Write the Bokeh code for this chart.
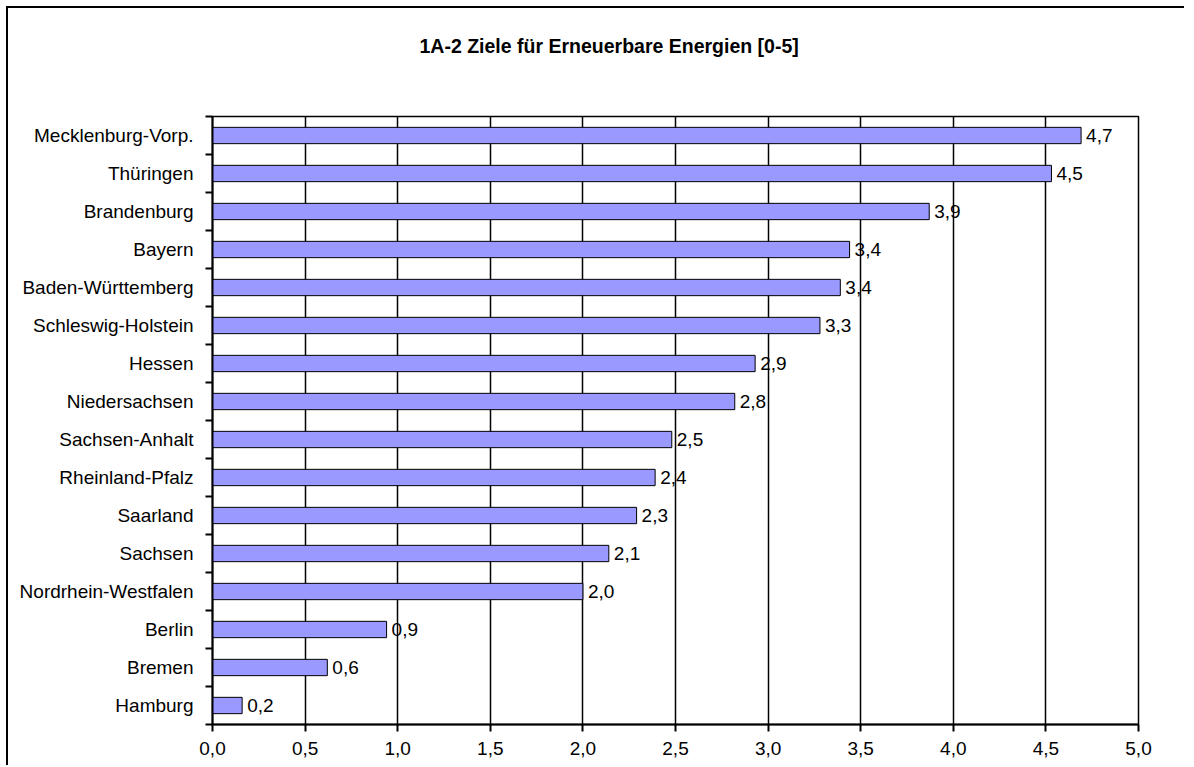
from bokeh.plotting import figure
from bokeh.models import FixedTicker, Range1d, ColumnDataSource
from bokeh.core.properties import value
from bokeh.embed import file_html
from bokeh.resources import INLINE

# Data (top to bottom as in the reference)
laender = ["Mecklenburg-Vorp.", "Thüringen", "Brandenburg", "Bayern", "Baden-Württemberg",
           "Schleswig-Holstein", "Hessen", "Niedersachsen", "Sachsen-Anhalt", "Rheinland-Pfalz",
           "Saarland", "Sachsen", "Nordrhein-Westfalen", "Berlin", "Bremen", "Hamburg"]
werte = [4.69, 4.53, 3.87, 3.44, 3.39, 3.28, 2.93, 2.82, 2.48, 2.39, 2.29, 2.14, 2.00, 0.94, 0.62, 0.16]
x_ticks = [0.0, 0.5, 1.0, 1.5, 2.0, 2.5, 3.0, 3.5, 4.0, 4.5, 5.0]
titel = "1A-2 Ziele für Erneuerbare Energien [0-5]"

n = len(laender)
ypos = [n - i - 0.5 for i in range(n)]
labels = [f"{v:.1f}".replace(".", ",") for v in werte]
src = ColumnDataSource(dict(y=ypos, v=werte, lab=labels, name=laender))

FONT = "Liberation Sans"
FS = "19px"

p = figure(width=1178, height=759, output_backend="svg", toolbar_location=None,
           x_range=Range1d(0, 5), y_range=Range1d(0, n),
           min_border_left=204, min_border_right=48, min_border_top=108, min_border_bottom=43,
           background_fill_color="white", border_fill_color="white")
p.styles = {"border-left": "2px solid black", "border-top": "2px solid black",
            "border-right": "none", "border-bottom": "none",
            "margin-left": "6px", "margin-top": "6px"}

# second (empty) line only enlarges the title box so that the title sits high above the plot
p.title.text = titel + "\n"
p.title.text_font = FONT
p.title.text_font_size = "19.5px"
p.title.text_font_style = "bold"
p.title.text_color = "black"
p.title.text_line_height = 1.66
p.title.align = "left"
p.title.offset = 207
p.title.vertical_align = "top"
p.title.standoff = 42

p.hbar(y="y", right="v", left=0, height=0.43, source=src,
       fill_color="#9999FF", line_color="black", line_width=1)
p.text(x="v", y="y", text="lab", source=src, x_offset=5,
       text_baseline="middle", text_align="left",
       text_font=value(FONT), text_font_size=FS, text_color="black")

# x axis
p.xaxis.ticker = FixedTicker(ticks=x_ticks)
p.xaxis.major_label_overrides = {t: f"{t:.1f}".replace(".", ",") for t in x_ticks}
p.xaxis.major_label_text_font = FONT
p.xaxis.major_label_text_font_size = FS
p.xaxis.major_label_text_color = "black"
p.xaxis.major_tick_out = 7
p.xaxis.major_tick_in = 0
p.xaxis.minor_tick_out = 0
p.xaxis.major_label_standoff = 10
p.xaxis.axis_line_color = "black"
p.xaxis.axis_line_width = 2
p.xaxis.major_tick_line_width = 2

# y axis: labels at category centers, ticks at boundaries (minor ticks)
p.yaxis.ticker = FixedTicker(ticks=ypos, minor_ticks=list(range(n + 1)))
p.yaxis.major_label_overrides = {y: name for y, name in zip(ypos, laender)}
p.yaxis.major_label_text_font = FONT
p.yaxis.major_label_text_font_size = FS
p.yaxis.major_label_text_color = "black"
p.yaxis.major_tick_out = 0
p.yaxis.major_tick_in = 0
p.yaxis.minor_tick_out = 7
p.yaxis.minor_tick_in = 0
p.yaxis.minor_tick_line_color = "black"
p.yaxis.minor_tick_line_width = 2
p.yaxis.major_label_standoff = 12
p.yaxis.axis_line_color = "black"
p.yaxis.axis_line_width = 2

p.xgrid.ticker = FixedTicker(ticks=x_ticks)
p.xgrid.grid_line_color = "black"
p.xgrid.grid_line_width = 1.5
p.ygrid.grid_line_color = None

p.outline_line_color = "black"
p.outline_line_width = 1.5

open("out.html", "w").write(file_html(p, INLINE))
